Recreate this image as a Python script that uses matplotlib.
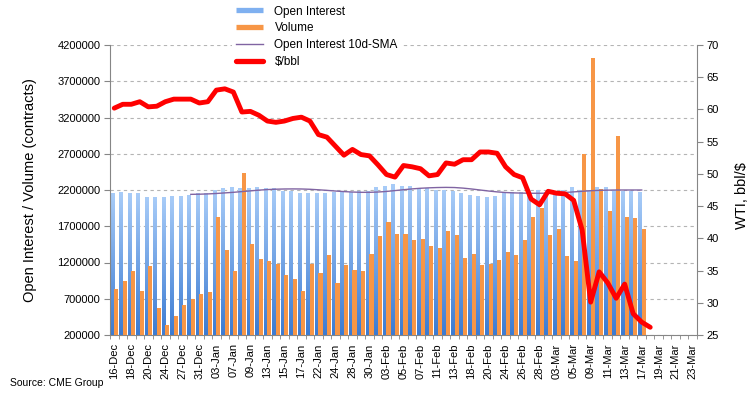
import numpy as np
import matplotlib.pyplot as plt
from matplotlib.lines import Line2D
from matplotlib.colors import LinearSegmentedColormap

plt.rcParams['font.family'] = ['Liberation Sans', 'DejaVu Sans']

dates = ['16-Dec', '17-Dec', '18-Dec', '19-Dec', '20-Dec', '23-Dec', '24-Dec', '26-Dec', '27-Dec', '30-Dec', '31-Dec',
         '02-Jan', '03-Jan', '06-Jan', '07-Jan', '08-Jan', '09-Jan', '10-Jan', '13-Jan', '14-Jan', '15-Jan', '16-Jan',
         '17-Jan', '21-Jan', '22-Jan', '23-Jan', '24-Jan', '27-Jan', '28-Jan', '29-Jan', '30-Jan', '31-Jan',
         '03-Feb', '04-Feb', '05-Feb', '06-Feb', '07-Feb', '10-Feb', '11-Feb', '12-Feb', '13-Feb', '14-Feb',
         '18-Feb', '19-Feb', '20-Feb', '21-Feb', '24-Feb', '25-Feb', '26-Feb', '27-Feb', '28-Feb',
         '02-Mar', '03-Mar', '04-Mar', '05-Mar', '06-Mar', '09-Mar', '10-Mar', '11-Mar', '12-Mar', '13-Mar',
         '16-Mar', '17-Mar', '18-Mar', '19-Mar', '20-Mar', '21-Mar', '22-Mar', '23-Mar']

# contracts, thousands
open_interest = [2145, 2159, 2145, 2145, 2103, 2103, 2103, 2117, 2117, 2131,
                 2145, 2145, 2200, 2214, 2241, 2214, 2214, 2228, 2214, 2214,
                 2186, 2186, 2145, 2145, 2145, 2145, 2172, 2159, 2159, 2186,
                 2186, 2228, 2255, 2269, 2255, 2255, 2214, 2214, 2200, 2200,
                 2186, 2145, 2131, 2117, 2103, 2117, 2159, 2159, 2159, 2186,
                 2200, 2172, 2160, 2200, 2228, 2200, 2200, 2228, 2228, 2200,
                 2186, 2186, 2172]
volume = [834, 945, 1083, 807, 1152, 572, 338, 462, 614, 697,
          766, 793, 1828, 1372, 1083, 2434, 1455, 1248, 1221, 1179,
          1028, 972, 807, 1179, 1055, 1303, 917, 1166, 1097, 1083,
          1317, 1566, 1759, 1593, 1593, 1510, 1524, 1428, 1400, 1634,
          1579, 1262, 1317, 1166, 1179, 1234, 1345, 1303, 1510, 1828,
          1952, 1579, 1662, 1290, 1221, 2697, 4021, 2214, 1910, 2945,
          1828, 1814, 1662]
# 10d-SMA starts at 30-Dec
sma = [2140, 2142, 2146, 2152, 2160, 2168, 2178, 2188, 2198, 2206,
       2211, 2214, 2215, 2214, 2210, 2203, 2195, 2186, 2178, 2172,
       2168, 2168, 2172, 2180, 2192, 2204, 2215, 2224, 2230, 2234,
       2236, 2234, 2226, 2214, 2200, 2186, 2174, 2165, 2160, 2157,
       2155, 2155, 2156, 2160, 2166, 2174, 2182, 2190, 2195, 2198,
       2200, 2200, 2200, 2200]
# WTI $/bbl
price = [60.2, 60.8, 60.8, 61.2, 60.4, 60.5, 61.2, 61.6, 61.6, 61.6,
         61.0, 61.2, 63.0, 63.2, 62.7, 59.6, 59.7, 59.1, 58.2, 58.0,
         58.2, 58.6, 58.8, 58.2, 56.1, 55.7, 54.3, 52.9, 53.8, 53.0,
         52.8, 51.4, 49.9, 49.5, 51.3, 51.1, 50.8, 49.7, 49.9, 51.7,
         51.5, 52.2, 52.2, 53.4, 53.4, 53.2, 51.1, 49.9, 49.4, 46.1,
         45.2, 47.3, 47.0, 46.9, 45.9, 41.3, 30.1, 34.8, 33.1, 30.7,
         32.9, 28.3, 27.0, 26.2]

oi = np.array(open_interest) * 1000
vol = np.array(volume) * 1000
sma_v = np.array(sma) * 1000
n = len(dates)

fig = plt.figure(figsize=(7.55, 3.97), dpi=100)
ax = fig.add_axes([110/755, 62/397, 587/755, 290/397])

grey = '#868686'
ymin, ymax = 200000, 4200000

# gradient blue bars
grad = np.linspace(1, 0, 200).reshape(-1, 1)
blue_cm = LinearSegmentedColormap.from_list('oi', ['#3c7bd2', '#a8ccf8'])
for i, v in enumerate(oi):
    ax.imshow(grad, cmap=blue_cm, vmin=0, vmax=1, extent=[i - 0.44, i - 0.01, ymin, v],
              aspect='auto', origin='upper', zorder=2, interpolation='bilinear')

ax.bar(np.arange(len(vol)) + 0.24, vol, width=0.48, color='#f79646', zorder=3)
ax.plot(np.arange(9, 9 + len(sma_v)), sma_v, color='#8064a2', lw=1, zorder=4)

ax.set_xlim(-0.5, n - 0.5)
ax.set_ylim(ymin, ymax)
ax.set_yticks(np.arange(ymin, ymax + 1, 500000))
ax.set_yticklabels([str(v) for v in range(ymin, ymax + 1, 500000)])
ax.grid(axis='y', color='#b4b4b4', linestyle=(0, (3, 3)), lw=0.8, zorder=0)
ax.set_axisbelow(True)

ax.set_xticks(np.arange(0, n, 2))
ax.set_xticklabels(dates[::2], rotation=90)
ax.set_xticks(np.arange(-0.5, n, 1), minor=True)
ax.tick_params(axis='x', which='major', length=0, pad=6, labelsize=8)
ax.tick_params(axis='x', which='minor', length=3, color=grey, direction='out')
ax.tick_params(axis='y', length=4, color=grey, labelsize=8, pad=3)

for s in ['left', 'bottom']:
    ax.spines[s].set_color(grey)
ax.spines['top'].set_visible(False)
ax.spines['right'].set_visible(False)

ax.set_ylabel('Open Interest / Volume (contracts)', fontsize=10.5)
ax.yaxis.set_label_coords(-0.125, 0.5)

ax2 = ax.twinx()
ax2.plot(np.arange(len(price)), price, color='#ff0000', lw=3.5,
         solid_joinstyle='round', solid_capstyle='round', zorder=5)
ax2.set_ylim(25, 70)
ax2.set_yticks(np.arange(25, 71, 5))
ax2.tick_params(axis='y', length=4, color=grey, labelsize=8, pad=3)
ax2.spines['right'].set_color(grey)
for s in ['left', 'top', 'bottom']:
    ax2.spines[s].set_visible(False)
ax2.set_ylabel('WTI, bbl/$', fontsize=10.5, rotation=90)
ax2.yaxis.set_label_coords(1.065, 0.48)

handles = [Line2D([], [], color='#7fb0f0', lw=3.8, solid_capstyle='butt'),
           Line2D([], [], color='#f79646', lw=3.8, solid_capstyle='butt'),
           Line2D([], [], color='#8064a2', lw=1),
           Line2D([], [], color='#ff0000', lw=3.8, solid_capstyle='round')]
labels = ['Open Interest', 'Volume', 'Open Interest 10d-SMA', '$/bbl']
leg = fig.legend(handles, labels, loc='upper left', bbox_to_anchor=(232/755, 1 - 2/397),
                 fontsize=8.5, frameon=True, facecolor='white', edgecolor='none',
                 framealpha=1, fancybox=False, handlelength=2.3, handletextpad=1.0,
                 labelspacing=0.42, borderpad=0.3, borderaxespad=0)

fig.text(10/755, 1 - 383/397, 'Source: CME Group', fontsize=7.5, va='center', ha='left')

fig.savefig('out.png', dpi=100)
